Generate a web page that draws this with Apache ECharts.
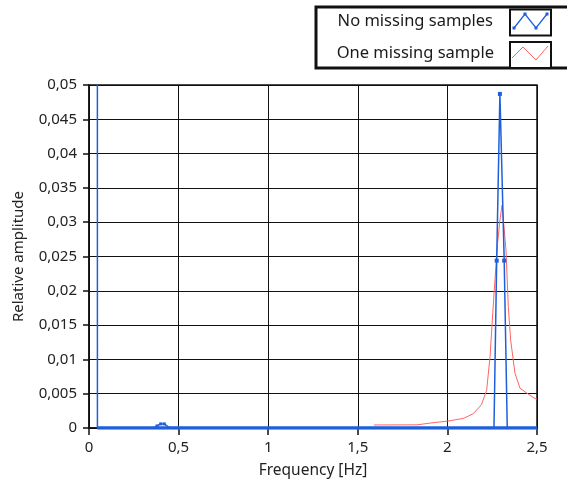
<!DOCTYPE html>
<html><head><meta charset="utf-8">
<script src="https://cdn.jsdelivr.net/npm/echarts@6/dist/echarts.min.js"></script>
<style>html,body{margin:0;padding:0;background:#fff}#c{width:567px;height:485px}</style>
</head><body><div id="c"></div>
<script>
// Data
const blueFreq = [0.046, 0.047, 0.36, 0.38, 0.40, 0.42, 0.44, 0.46, 2.26, 2.275, 2.293, 2.317, 2.334, 2.5];
const blueVal  = [0.2, 0, 0, 0.0003, 0.0006, 0.0006, 0.0002, 0, 0, 0.0244, 0.0487, 0.0244, 0, 0];
const blueMarked = [2.275, 2.293, 2.317, 0.38, 0.40, 0.42];
const redFreq = [1.59, 1.83, 1.92, 2.0, 2.09, 2.145, 2.19, 2.219, 2.238, 2.253, 2.266, 2.28, 2.293, 2.305, 2.316, 2.327, 2.34, 2.353, 2.377, 2.405, 2.442, 2.489, 2.5];
const redVal  = [0.00044, 0.00046, 0.00077, 0.001, 0.0014, 0.0021, 0.0034, 0.0055, 0.0104, 0.0167, 0.0218, 0.0269, 0.0303, 0.0325, 0.0293, 0.0259, 0.0177, 0.0128, 0.008, 0.0058, 0.0051, 0.0043, 0.0042];
const seriesNames = ['No missing samples', 'One missing sample'];
const xTicks = [0, 0.5, 1, 1.5, 2, 2.5];
const yTicks = [0, 0.005, 0.01, 0.015, 0.02, 0.025, 0.03, 0.035, 0.04, 0.045, 0.05];

const BLUE = '#1f5fdc', RED = '#ff6464';
const fmt = v => String(+(+v).toFixed(3)).replace('.', ',');
const FONT = 'Noto Sans';

const blueData = blueFreq.map((f, i) => {
  const d = {value: [f, blueVal[i]]};
  if (blueMarked.includes(f)) { d.symbol = 'rect'; d.symbolSize = f > 1 ? 4 : 3; }
  return d;
});
const baseData = [[blueFreq[1], 0], [blueFreq[blueFreq.length - 1], 0]];

const chart = echarts.init(document.getElementById('c'), null, {renderer: 'canvas'});
chart.setOption({
  animation: false,
  backgroundColor: '#fff',
  grid: {left: 89, right: 30, top: 85, bottom: 57, show: true, borderColor: '#111', borderWidth: 1.5, backgroundColor: '#fff'},
  legend: {show: false, data: seriesNames},
  xAxis: {
    type: 'value', min: 0, max: 2.5, interval: 0.5,
    name: 'Frequency [Hz]', nameLocation: 'middle', nameGap: 35,
    nameTextStyle: {fontFamily: FONT, fontSize: 15.5, color: '#222'},
    axisLine: {show: true, onZero: false, lineStyle: {color: '#111', width: 1.5}},
    axisTick: {show: true, length: 7, lineStyle: {color: '#111', width: 1.5}},
    axisLabel: {formatter: fmt, fontFamily: FONT, fontSize: 15, color: '#222', margin: 12},
    splitLine: {show: true, lineStyle: {color: '#111', width: 1}}
  },
  yAxis: {
    type: 'value', min: 0, max: 0.05, interval: 0.005,
    name: 'Relative amplitude', nameLocation: 'middle', nameGap: 63,
    nameTextStyle: {fontFamily: FONT, fontSize: 15, color: '#222'},
    axisLine: {show: true, lineStyle: {color: '#111', width: 1.5}},
    axisTick: {show: true, length: 6, lineStyle: {color: '#111', width: 1.5}},
    axisLabel: {formatter: fmt, fontFamily: FONT, fontSize: 15, color: '#222', margin: 12},
    splitLine: {show: true, lineStyle: {color: '#111', width: 1}}
  },
  series: [
    {name: seriesNames[1], type: 'line', data: redFreq.map((f, i) => [f, redVal[i]]),
     showSymbol: false, symbol: 'none', lineStyle: {color: RED, width: 1}, itemStyle: {color: RED}, z: 3},
    {name: seriesNames[0], type: 'line', data: blueData, showSymbol: true, symbol: 'none',
     lineStyle: {color: BLUE, width: 1.5}, itemStyle: {color: BLUE}, z: 4},
    {name: seriesNames[0], type: 'line', data: baseData, symbol: 'none',
     lineStyle: {color: BLUE, width: 3.5}, itemStyle: {color: BLUE}, z: 4}
  ],
  graphic: [
    {type: 'rect', shape: {x: 316, y: 7, width: 270, height: 61}, style: {fill: '#fff', stroke: '#111', lineWidth: 3}, z: 10},
    {type: 'text', x: 493, y: 21, style: {text: seriesNames[0], font: '16.5px "Noto Sans"', fill: '#1a1a1a', textAlign: 'right', textVerticalAlign: 'middle'}, z: 11},
    {type: 'text', x: 494, y: 53, style: {text: seriesNames[1], font: '16.5px "Noto Sans"', fill: '#1a1a1a', textAlign: 'right', textVerticalAlign: 'middle'}, z: 11},
    {type: 'rect', shape: {x: 510, y: 9.5, width: 41, height: 26}, style: {fill: '#fff', stroke: '#111', lineWidth: 2}, z: 11},
    {type: 'rect', shape: {x: 510, y: 42, width: 41, height: 26}, style: {fill: '#fff', stroke: '#111', lineWidth: 2}, z: 11},
    {type: 'polyline', shape: {points: [[514, 28], [525, 14], [536, 28], [547, 14]]}, style: {stroke: BLUE, lineWidth: 1.3, fill: null}, z: 12},
    {type: 'rect', shape: {x: 512.5, y: 26.5, width: 3, height: 3}, style: {fill: BLUE}, z: 12},
    {type: 'rect', shape: {x: 523.5, y: 12.5, width: 3, height: 3}, style: {fill: BLUE}, z: 12},
    {type: 'rect', shape: {x: 534.5, y: 26.5, width: 3, height: 3}, style: {fill: BLUE}, z: 12},
    {type: 'rect', shape: {x: 545.5, y: 12.5, width: 3, height: 3}, style: {fill: BLUE}, z: 12},
    {type: 'polyline', shape: {points: [[512, 58], [523, 47], [536, 60], [548, 46]]}, style: {stroke: RED, lineWidth: 1, fill: null}, z: 12}
  ]
});
</script></body></html>
